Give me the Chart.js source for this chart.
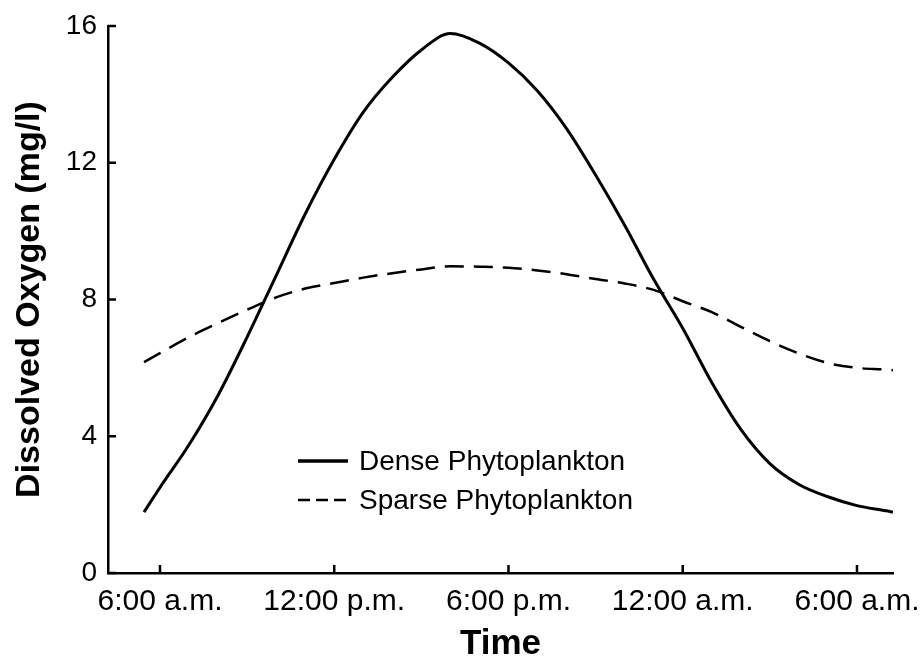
<!DOCTYPE html>
<html>
<head>
<meta charset="utf-8">
<script src="https://cdn.jsdelivr.net/npm/chart.js@4"></script>
<style>
  html, body { margin: 0; padding: 0; background: #fff; }
  #chart { display: block; }
</style>
</head>
<body>
<canvas id="chart" width="921" height="658"></canvas>
<script>
// hours after 6:00 a.m.
const hours = [-0.55, 0, 1, 2, 3, 4, 5, 6, 7, 8, 9, 10, 11, 12, 13, 14, 15, 16, 17, 18, 19, 20, 21, 22, 23, 24, 25, 25.24];
const dense = [1.78, 2.5, 3.75, 5.2, 6.9, 8.7, 10.5, 12.1, 13.48, 14.5, 15.3, 15.78, 15.5, 14.92, 14.1, 13.0, 11.64, 10.17, 8.59, 7.16, 5.57, 4.2, 3.2, 2.59, 2.23, 1.97, 1.82, 1.78];
const sparse = [6.17, 6.43, 6.9, 7.31, 7.7, 8.06, 8.32, 8.48, 8.64, 8.77, 8.88, 8.97, 8.96, 8.93, 8.85, 8.74, 8.6, 8.47, 8.28, 7.95, 7.63, 7.2, 6.78, 6.42, 6.14, 6.0, 5.95, 5.93];

const tickHours = [0, 6, 12, 18, 24];
const tickLabels = ["6:00 a.m.", "12:00 p.m.", "6:00 p.m.", "12:00 a.m.", "6:00 a.m."];
const yTicks = [0, 4, 8, 12, 16];

const FONT = "'Liberation Sans', Arial, Helvetica, sans-serif";

// tick marks point into the plot, so draw them ourselves
const innerTicks = {
    id: "innerTicks",
    afterDraw(chart) {
        const { ctx, chartArea, scales } = chart;
        ctx.save();
        ctx.strokeStyle = "#000";
        ctx.lineWidth = 2.5;
        ctx.beginPath();
        scales.x.ticks.forEach((t) => {
            const px = scales.x.getPixelForValue(t.value);
            ctx.moveTo(px, chartArea.bottom);
            ctx.lineTo(px, chartArea.bottom - 8);
        });
        scales.y.ticks.forEach((t) => {
            const py = scales.y.getPixelForValue(t.value);
            ctx.moveTo(chartArea.left, py);
            ctx.lineTo(chartArea.left + 8, py);
        });
        ctx.stroke();
        ctx.restore();
    },
};

const legendBox = {
    id: "legendBox",
    afterDraw(chart) {
        const { ctx } = chart;
        const rows = [461, 500];
        ctx.save();
        ctx.font = "28px " + FONT;
        ctx.textBaseline = "middle";
        ctx.fillStyle = "#000";
        chart.data.datasets.forEach((ds, i) => {
            const y = rows[i];
            ctx.strokeStyle = "#000";
            ctx.lineWidth = i === 0 ? 3.5 : 2.5;
            ctx.setLineDash(ds.borderDash.length ? [12, 6] : []);
            ctx.beginPath();
            ctx.moveTo(298, y);
            ctx.lineTo(348, y);
            ctx.stroke();
            ctx.setLineDash([]);
            ctx.fillText(ds.label, 359, y + 1);
        });
        ctx.restore();
    },
};

new Chart(document.getElementById("chart"), {
    type: "line",
    data: {
        datasets: [
            {
                label: "Dense Phytoplankton",
                data: hours.map((h, i) => ({ x: h, y: dense[i] })),
                borderColor: "#000",
                borderWidth: 3,
                borderDash: [],
                pointRadius: 0,
                cubicInterpolationMode: "monotone",
            },
            {
                label: "Sparse Phytoplankton",
                data: hours.map((h, i) => ({ x: h, y: sparse[i] })),
                borderColor: "#000",
                borderWidth: 2.5,
                borderDash: [19, 10],
                pointRadius: 0,
                cubicInterpolationMode: "monotone",
            },
        ],
    },
    options: {
        responsive: false,
        animation: false,
        layout: {
            padding: { top: 26, right: 28, bottom: 0, left: 0 },
        },
        plugins: {
            legend: { display: false },
            tooltip: { enabled: false },
        },
        scales: {
            x: {
                type: "linear",
                min: -1.79,
                max: 25.24,
                afterBuildTicks(scale) {
                    scale.ticks = tickHours.map((v) => ({ value: v }));
                },
                afterFit(scale) {
                    scale.height = 85;
                    scale.paddingLeft = 0;
                    scale.paddingRight = 0;
                },
                grid: { display: false, drawTicks: false },
                border: { display: true, color: "#000", width: 2.5 },
                ticks: {
                    autoSkip: false,
                    maxRotation: 0,
                    padding: 11,
                    color: "#000",
                    font: { family: FONT, size: 30 },
                    callback: (v) => tickLabels[tickHours.indexOf(v)],
                },
                title: {
                    display: true,
                    text: "Time",
                    color: "#000",
                    font: { family: FONT, size: 35, weight: "bold", lineHeight: 0.8 },
                    padding: { top: 0, bottom: 0 },
                },
            },
            y: {
                min: 0,
                max: 16,
                afterBuildTicks(scale) {
                    scale.ticks = yTicks.map((v) => ({ value: v }));
                },
                afterFit(scale) {
                    scale.width = 108;
                    scale.paddingTop = 0;
                    scale.paddingBottom = 0;
                },
                grid: { display: false, drawTicks: false },
                border: { display: true, color: "#000", width: 2.5 },
                ticks: {
                    padding: 11,
                    color: "#000",
                    font: { family: FONT, size: 28 },
                },
                title: {
                    display: true,
                    text: "Dissolved Oxygen (mg/l)",
                    color: "#000",
                    font: { family: FONT, size: 34, weight: "bold", lineHeight: 1.2 },
                    padding: { top: 9, bottom: 0 },
                },
            },
        },
    },
    plugins: [innerTicks, legendBox],
});
</script>
</body>
</html>
